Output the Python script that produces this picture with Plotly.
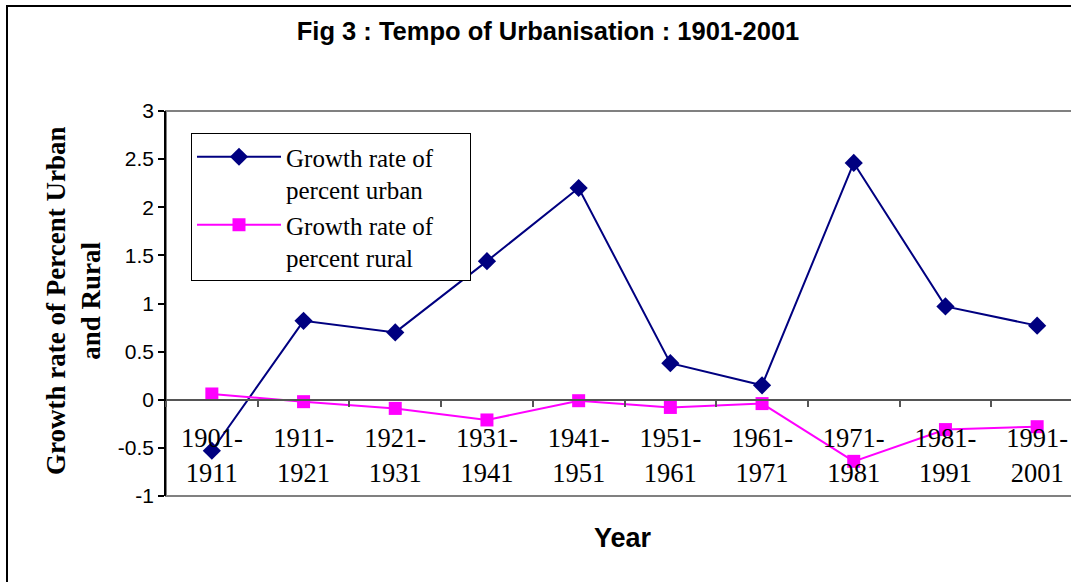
import plotly.graph_objects as go

periods = ["1901-<br>1911", "1911-<br>1921", "1921-<br>1931", "1931-<br>1941", "1941-<br>1951",
           "1951-<br>1961", "1961-<br>1971", "1971-<br>1981", "1981-<br>1991", "1991-<br>2001"]
urban = [-0.53, 0.82, 0.70, 1.44, 2.20, 0.38, 0.15, 2.46, 0.97, 0.77]
rural = [0.06, -0.02, -0.09, -0.21, -0.01, -0.08, -0.04, -0.64, -0.31, -0.28]
y_ticks = [-1, -0.5, 0, 0.5, 1, 1.5, 2, 2.5, 3]
y_ticktext = ["-1", "-0.5", "0", "0.5", "1", "1.5", "2", "2.5", "3"]

W, H = 1071, 582
L, T, B, R = 166, 111, 86, 0
pw = W - L - R
ph = H - T - B

pad = "&nbsp;" * 5
fig = go.Figure()
fig.add_trace(go.Scatter(
    x=periods, y=urban, mode="lines+markers",
    name="Growth rate of" + pad + "<br>percent urban",
    line=dict(color="#000080", width=2),
    marker=dict(symbol="diamond", size=14, color="#000080"),
    cliponaxis=False))
fig.add_trace(go.Scatter(
    x=periods, y=rural, mode="lines+markers",
    name="Growth rate of" + pad + "<br>percent rural",
    line=dict(color="#FF00FF", width=2),
    marker=dict(symbol="square", size=13, color="#FF00FF"),
    cliponaxis=False))

fig.update_layout(
    width=W, height=H, autosize=False,
    margin=dict(l=L, r=R, t=T, b=B, pad=0),
    paper_bgcolor="white", plot_bgcolor="white",
    title=dict(text="<b>Fig 3 : Tempo of Urbanisation : 1901-2001</b>",
               x=548 / W, xanchor="center", xref="container",
               y=1 - 31 / H, yanchor="middle",
               font=dict(family="Liberation Sans", size=25.5, color="black")),
    xaxis=dict(type="category", categoryorder="array", categoryarray=periods,
               range=[-0.5, -0.5 + pw / 91.7],
               anchor="free", position=0.25,
               showline=True, linecolor="#555555", linewidth=1.5,
               ticks="outside", tickson="boundaries", ticklen=6, tickcolor="#555555",
               tickwidth=1.5,
               showgrid=False, zeroline=False,
               ticklabelstandoff=15,
               tickfont=dict(family="Liberation Serif", size=26.5, color="black")),
    yaxis=dict(range=[-1, 3], tickvals=y_ticks, ticktext=y_ticktext,
               showline=True, linecolor="black", linewidth=1.5,
               ticks="outside", ticklen=6, tickcolor="black", tickwidth=1.5,
               showgrid=False, zeroline=False,
               tickfont=dict(family="Liberation Sans", size=21, color="black")),
    legend=dict(x=(191 - L) / pw, y=(H - B - 133) / ph, xanchor="left", yanchor="top",
                bgcolor="white", bordercolor="black", borderwidth=1,
                font=dict(family="Liberation Serif", size=25, color="black"),
                valign="top", tracegroupgap=0, itemwidth=84),
    showlegend=True,
)

# plot area border (grey) and outer chart frame
fig.add_shape(type="rect", xref="paper", yref="paper", x0=0, x1=1.1, y0=0, y1=1,
              line=dict(color="#808080", width=2), layer="below")
fig.add_shape(type="rect", xref="paper", yref="paper",
              x0=(7 - L) / pw, x1=1.2, y0=-0.5, y1=(H - B - 6) / ph,
              line=dict(color="black", width=2), layer="below")

fig.add_annotation(text="<b>Growth rate of Percent Urban<br>and Rural</b>",
                   textangle=-90, xref="paper", yref="paper",
                   x=(73 - L) / pw, y=(H - B - 301) / ph, xanchor="center", yanchor="middle",
                   showarrow=False,
                   font=dict(family="Liberation Serif", size=27, color="black"))
fig.add_annotation(text="<b>Year</b>", xref="paper", yref="paper",
                   x=(623 - L) / pw, y=(H - B - 538) / ph, xanchor="center", yanchor="middle",
                   showarrow=False,
                   font=dict(family="Liberation Sans", size=27, color="black"))

fig.write_html("out.html", config={"displayModeBar": False},
               post_script="document.body.style.margin='0';document.body.style.overflow='hidden';")
